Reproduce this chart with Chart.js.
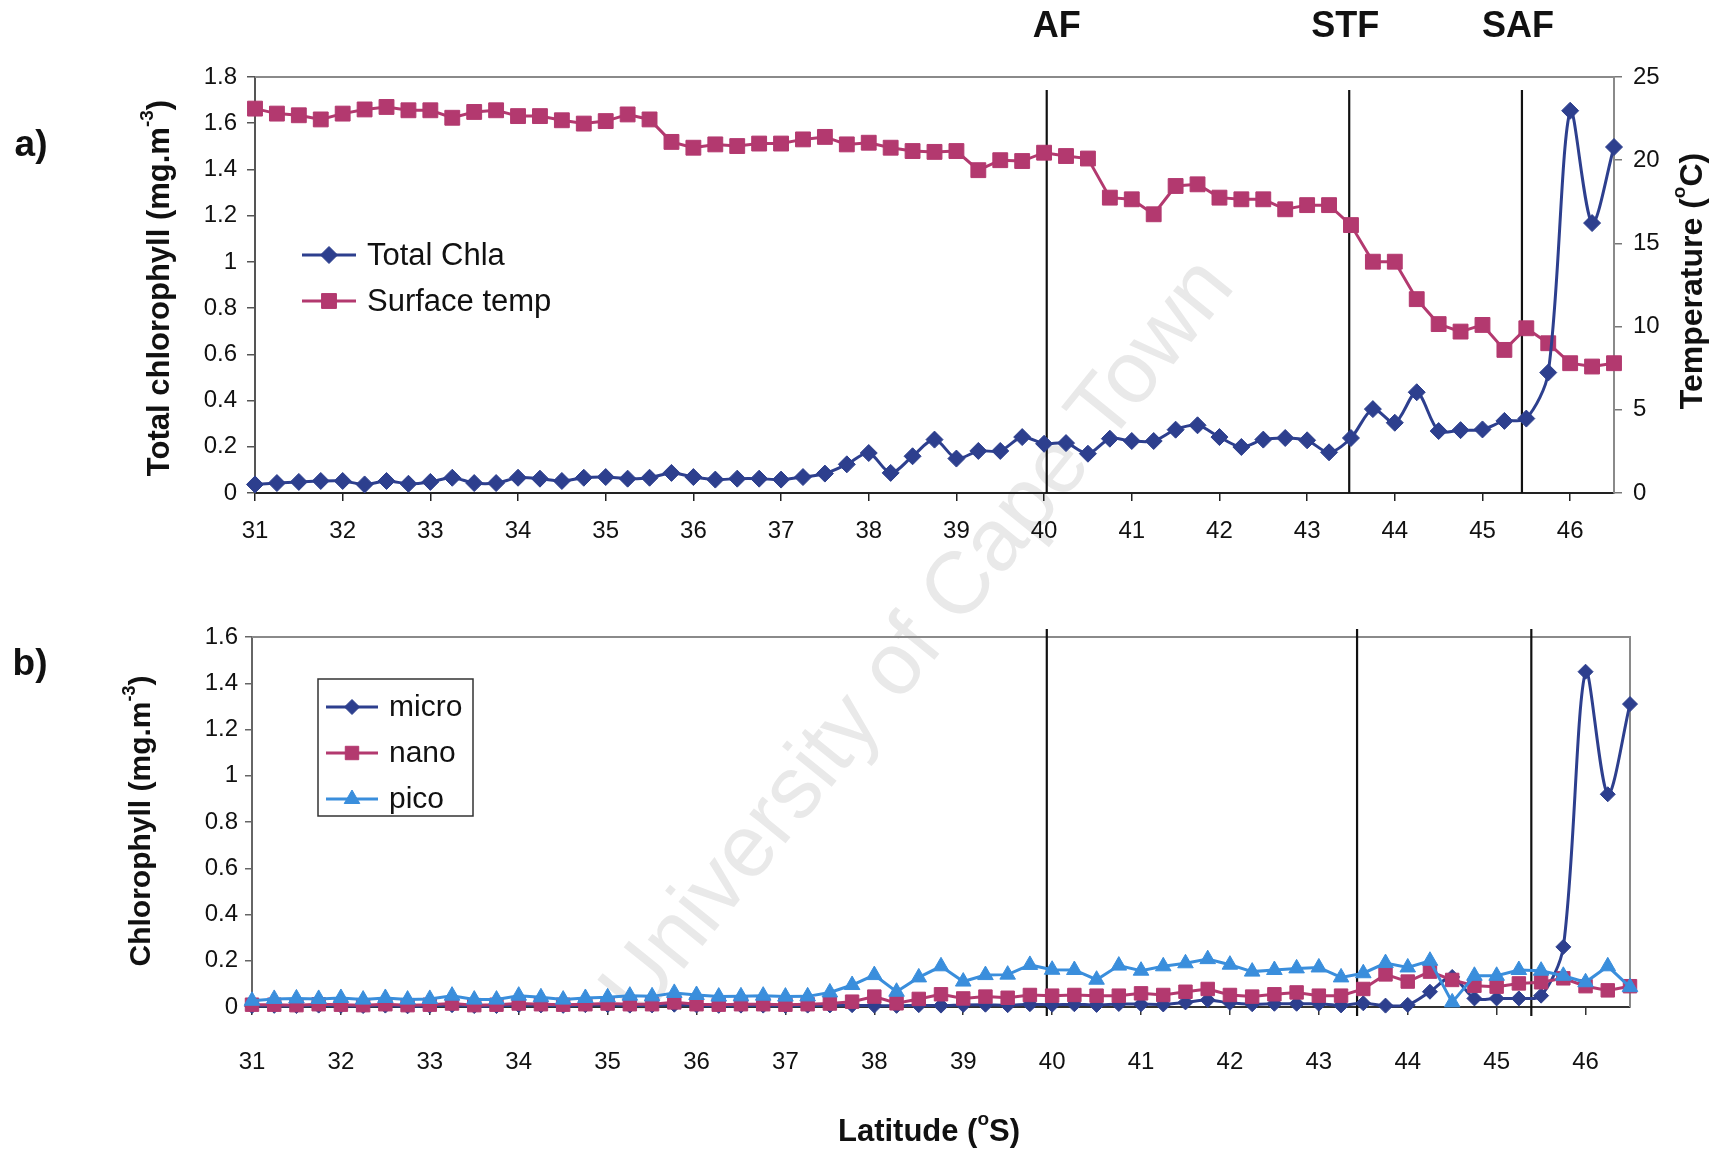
<!DOCTYPE html>
<html>
<head>
<meta charset="utf-8">
<script src="https://cdn.jsdelivr.net/npm/chart.js@4/dist/chart.umd.min.js"></script>
<style>
  html, body { margin: 0; padding: 0; background: #ffffff; }
  #wrap { position: relative; width: 1718px; height: 1152px; overflow: hidden; }
  #mark {
    position: absolute; left: 915px; top: 636px;
    transform: translate(-50%, -50%) rotate(-51deg);
    font-family: "Liberation Sans", Arial, sans-serif; font-size: 88px;
    color: #e9e9e9; white-space: nowrap; z-index: 0;
  }
  .panel { position: absolute; left: 0; z-index: 1; }
</style>
</head>
<body>
<div id="wrap">
  <div id="mark">University of Cape Town</div>
  <div class="panel" style="top:0"><canvas id="chartA" width="1718" height="560"></canvas></div>
  <div class="panel" style="top:560px"><canvas id="chartB" width="1718" height="592"></canvas></div>
</div>
<script>
// ---- station latitudes (degrees S) ----
const latitude = [
  31, 31.25, 31.5, 31.75, 32, 32.25, 32.5, 32.75, 33, 33.25, 33.5, 33.75, 34, 34.25, 34.5, 34.75,
  35, 35.25, 35.5, 35.75, 36, 36.25, 36.5, 36.75, 37, 37.25, 37.5, 37.75, 38, 38.25, 38.5, 38.75,
  39, 39.25, 39.5, 39.75, 40, 40.25, 40.5, 40.75, 41, 41.25, 41.5, 41.75, 42, 42.25, 42.5, 42.75,
  43, 43.25, 43.5, 43.75, 44, 44.25, 44.5, 44.75, 45, 45.25, 45.5, 45.75, 46, 46.25, 46.5
];

// ---- panel a: total chlorophyll (mg m-3) and surface temperature (deg C) ----
const totalChla = [
  0.037, 0.043, 0.048, 0.052, 0.052, 0.037, 0.052, 0.040, 0.048, 0.066, 0.043, 0.043, 0.066, 0.062, 0.052, 0.066,
  0.069, 0.062, 0.066, 0.087, 0.069, 0.058, 0.062, 0.062, 0.058, 0.069, 0.084, 0.124, 0.173, 0.087, 0.159, 0.231,
  0.149, 0.182, 0.182, 0.242, 0.213, 0.216, 0.170, 0.235, 0.225, 0.225, 0.274, 0.293, 0.242, 0.199, 0.231, 0.238,
  0.228, 0.176, 0.238, 0.363, 0.304, 0.436, 0.268, 0.272, 0.275, 0.312, 0.322, 0.521, 1.654, 1.168, 1.497
];
const surfaceTemp = [
  23.1, 22.8, 22.7, 22.45, 22.8, 23.05, 23.2, 23.0, 23.0, 22.55, 22.9, 23.0, 22.65, 22.65, 22.4, 22.2,
  22.35, 22.75, 22.45, 21.1, 20.75, 20.95, 20.85, 21.0, 21.0, 21.25, 21.4, 20.95, 21.05, 20.75, 20.55, 20.5,
  20.55, 19.4, 20.0, 19.95, 20.45, 20.25, 20.1, 17.75, 17.65, 16.75, 18.45, 18.55, 17.75, 17.65, 17.65, 17.05,
  17.3, 17.3, 16.1, 13.9, 13.9, 11.65, 10.15, 9.7, 10.1, 8.6, 9.9, 9.0, 7.8, 7.6, 7.8
];

// ---- panel b: size-fractionated chlorophyll (mg m-3) ----
const micro = [
  0.004, 0.005, 0.004, 0.006, 0.005, 0.004, 0.006, 0.003, 0.005, 0.008, 0.004, 0.004, 0.008, 0.007, 0.005, 0.008,
  0.008, 0.006, 0.007, 0.010, 0.007, 0.005, 0.006, 0.006, 0.005, 0.006, 0.007, 0.008, 0.006, 0.005, 0.008, 0.006,
  0.009, 0.010, 0.008, 0.012, 0.010, 0.012, 0.009, 0.013, 0.012, 0.011, 0.020, 0.030, 0.018, 0.012, 0.014, 0.014,
  0.014, 0.007, 0.016, 0.006, 0.009, 0.066, 0.130, 0.037, 0.037, 0.037, 0.049, 0.260, 1.45, 0.92, 1.31
];
const nano = [
  0.010, 0.010, 0.008, 0.012, 0.010, 0.008, 0.012, 0.008, 0.010, 0.015, 0.008, 0.010, 0.015, 0.012, 0.010, 0.012,
  0.015, 0.012, 0.012, 0.020, 0.012, 0.010, 0.012, 0.012, 0.010, 0.012, 0.015, 0.023, 0.045, 0.016, 0.035, 0.055,
  0.037, 0.045, 0.040, 0.052, 0.049, 0.052, 0.049, 0.049, 0.059, 0.052, 0.066, 0.078, 0.052, 0.045, 0.055, 0.063,
  0.049, 0.049, 0.078, 0.141, 0.110, 0.153, 0.117, 0.092, 0.088, 0.102, 0.107, 0.124, 0.090, 0.072, 0.090
];
const pico = [
  0.027, 0.035, 0.037, 0.035, 0.039, 0.032, 0.039, 0.032, 0.035, 0.049, 0.032, 0.032, 0.049, 0.042, 0.032, 0.039,
  0.042, 0.049, 0.046, 0.061, 0.052, 0.045, 0.046, 0.049, 0.045, 0.046, 0.063, 0.095, 0.138, 0.066, 0.128, 0.176,
  0.110, 0.138, 0.140, 0.182, 0.161, 0.160, 0.118, 0.179, 0.157, 0.176, 0.189, 0.207, 0.183, 0.153, 0.160, 0.167,
  0.171, 0.128, 0.146, 0.190, 0.171, 0.200, 0.020, 0.135, 0.135, 0.160, 0.157, 0.135, 0.107, 0.176, 0.086
];

// ---- fronts (latitude of each front, per panel) ----
const frontNames = ['AF', 'STF', 'SAF'];
const frontsA = [40.03, 43.48, 45.45];
const frontsB = [39.94, 43.43, 45.39];

// ---- tick values and their labels ----
const latTicks = [31, 32, 33, 34, 35, 36, 37, 38, 39, 40, 41, 42, 43, 44, 45, 46];
const latTickLabels = ['31', '32', '33', '34', '35', '36', '37', '38', '39', '40', '41', '42', '43', '44', '45', '46'];
const chlaTicks = [0, 0.2, 0.4, 0.6, 0.8, 1, 1.2, 1.4, 1.6, 1.8];
const chlaTickLabels = ['0', '0.2', '0.4', '0.6', '0.8', '1', '1.2', '1.4', '1.6', '1.8'];
const tempTicks = [0, 5, 10, 15, 20, 25];
const tempTickLabels = ['0', '5', '10', '15', '20', '25'];
const sizeTicks = [0, 0.2, 0.4, 0.6, 0.8, 1, 1.2, 1.4, 1.6];
const sizeTickLabels = ['0', '0.2', '0.4', '0.6', '0.8', '1', '1.2', '1.4', '1.6'];

const FAMILY = '"Liberation Sans", Arial, Helvetica, sans-serif';
const NAVY = '#2d3f8e';
const PLUM = '#b3396f';
const SKY = '#3a8edc';
const FRAME = '#8a8a8a';

const pts = (ys) => latitude.map((x, i) => ({ x: x, y: ys[i] }));
const setTicks = (vals) => (axis) => { axis.ticks = vals.map(v => ({ value: v })); };
const tickText = (labels) => (v, i) => labels[i];

// rich text with raised superscript parts, centred on (x, y)
function drawRich(ctx, parts, x, y, size, rot, bold) {
  ctx.save();
  ctx.translate(x, y);
  ctx.rotate(rot);
  const w = bold ? 'bold ' : '';
  const base = w + size + 'px ' + FAMILY;
  const sup = w + Math.round(size * 0.6) + 'px ' + FAMILY;
  let total = 0;
  const widths = parts.map(([t, s]) => {
    ctx.font = s ? sup : base;
    const m = ctx.measureText(t).width;
    total += m;
    return m;
  });
  let cx = -total / 2;
  ctx.textAlign = 'left';
  ctx.textBaseline = 'middle';
  ctx.fillStyle = '#111111';
  parts.forEach(([t, s], i) => {
    ctx.font = s ? sup : base;
    ctx.fillText(t, cx, s ? -size * 0.4 : 0);
    cx += widths[i];
  });
  ctx.restore();
}

function drawMarker(ctx, style, x, y, r, color) {
  ctx.save();
  ctx.fillStyle = color;
  ctx.strokeStyle = color;
  ctx.lineWidth = 1;
  ctx.beginPath();
  if (style === 'rectRot') {
    ctx.moveTo(x, y - r); ctx.lineTo(x + r, y); ctx.lineTo(x, y + r); ctx.lineTo(x - r, y);
  } else if (style === 'rect') {
    const s = r * Math.SQRT1_2;
    ctx.rect(x - s, y - s, 2 * s, 2 * s);
  } else {
    ctx.moveTo(x, y - r); ctx.lineTo(x + r * 0.866, y + r / 2); ctx.lineTo(x - r * 0.866, y + r / 2);
  }
  ctx.closePath();
  ctx.fill();
  ctx.stroke();
  ctx.restore();
}

// line + marker legend, optional box
function legendPlugin(cfg) {
  return {
    id: 'lineLegend',
    afterDraw(chart) {
      const ctx = chart.ctx;
      if (cfg.box) {
        ctx.save();
        ctx.strokeStyle = '#333333';
        ctx.lineWidth = 1.5;
        ctx.strokeRect(cfg.box[0], cfg.box[1], cfg.box[2], cfg.box[3]);
        ctx.restore();
      }
      chart.data.datasets.forEach((ds, i) => {
        const y = cfg.rows[i];
        ctx.save();
        ctx.strokeStyle = ds.borderColor;
        ctx.lineWidth = 3;
        ctx.beginPath();
        ctx.moveTo(cfg.x0, y);
        ctx.lineTo(cfg.x1, y);
        ctx.stroke();
        ctx.restore();
        drawMarker(ctx, ds.pointStyle, (cfg.x0 + cfg.x1) / 2, y, ds.pointRadius, ds.backgroundColor);
        ctx.save();
        ctx.font = cfg.size + 'px ' + FAMILY;
        ctx.fillStyle = '#111111';
        ctx.textAlign = 'left';
        ctx.textBaseline = 'middle';
        ctx.fillText(ds.label, cfg.textX, y + 1);
        ctx.restore();
      });
    }
  };
}

// plot frame and vertical front lines, drawn beneath the series
function framePlugin(cfg) {
  return {
    id: 'frameFronts',
    beforeDatasetsDraw(chart) {
      const { ctx, chartArea: a, scales } = chart;
      ctx.save();
      ctx.strokeStyle = FRAME;
      ctx.lineWidth = 2;
      ctx.beginPath();
      ctx.moveTo(a.left, a.top);
      ctx.lineTo(a.right, a.top);
      if (cfg.rightEdge) { ctx.lineTo(a.right, a.bottom); }
      ctx.stroke();
      ctx.strokeStyle = '#111111';
      ctx.lineWidth = 2.2;
      cfg.fronts.forEach((lat) => {
        const x = scales.x.getPixelForValue(lat);
        ctx.beginPath();
        ctx.moveTo(x, a.top + cfg.lineTopOffset);
        ctx.lineTo(x, a.bottom + cfg.lineBottomOffset);
        ctx.stroke();
      });
      ctx.restore();
    },
    afterDraw(chart) {
      const { ctx, scales } = chart;
      if (cfg.frontLabels) {
        ctx.save();
        ctx.font = 'bold 36px ' + FAMILY;
        ctx.fillStyle = '#111111';
        ctx.textAlign = 'center';
        ctx.textBaseline = 'middle';
        cfg.fronts.forEach((lat, i) => {
          const x = scales.x.getPixelForValue(lat) + cfg.labelNudge[i];
          ctx.fillText(frontNames[i], x, cfg.labelY);
        });
        ctx.restore();
      }
      ctx.save();
      ctx.font = 'bold 37px ' + FAMILY;
      ctx.fillStyle = '#111111';
      ctx.textAlign = 'center';
      ctx.textBaseline = 'middle';
      ctx.fillText(cfg.panel[0], cfg.panel[1], cfg.panel[2]);
      ctx.restore();
      cfg.titles.forEach((t) => drawRich(ctx, t.parts, t.x, t.y, t.size, t.rot, true));
    }
  };
}

function seriesStyle(color, style, radius, tension) {
  return {
    borderColor: color, backgroundColor: color,
    pointStyle: style, pointRadius: radius, pointHoverRadius: radius,
    pointBorderWidth: 1, pointBorderColor: color, pointBackgroundColor: color,
    borderWidth: 3, tension: tension, clip: false, fill: false
  };
}

const tickFont = { family: FAMILY, size: 24 };

// ---------------- panel a ----------------
new Chart(document.getElementById('chartA'), {
  type: 'line',
  data: {
    datasets: [
      Object.assign({ label: 'Total Chla', data: pts(totalChla), yAxisID: 'y' }, seriesStyle(NAVY, 'rectRot', 8.5, 0.3)),
      Object.assign({ label: 'Surface temp', data: pts(surfaceTemp), yAxisID: 'y2' }, seriesStyle(PLUM, 'rect', 10.5, 0))
    ]
  },
  options: {
    responsive: false, animation: false, devicePixelRatio: 1,
    layout: { padding: { top: 77, left: 0, right: 0, bottom: 0 } },
    plugins: { legend: { display: false }, tooltip: { enabled: false } },
    scales: {
      x: {
        type: 'linear', min: 31, max: 46.5,
        afterBuildTicks: setTicks(latTicks), afterFit: (s) => { s.height = 67; },
        grid: { drawOnChartArea: false, tickLength: 8, color: '#222222', lineWidth: 1.5 },
        border: { color: '#222222', width: 2 },
        ticks: { font: tickFont, color: '#111111', padding: 16, maxRotation: 0, autoSkip: false, callback: tickText(latTickLabels) }
      },
      y: {
        position: 'left', min: 0, max: 1.8,
        afterBuildTicks: setTicks(chlaTicks), afterFit: (s) => { s.width = 255; },
        grid: { drawOnChartArea: false, tickLength: 8, color: '#555555', lineWidth: 1.5 },
        border: { color: '#555555', width: 2 },
        ticks: { font: tickFont, color: '#111111', padding: 10, autoSkip: false, callback: tickText(chlaTickLabels) }
      },
      y2: {
        position: 'right', min: 0, max: 25,
        afterBuildTicks: setTicks(tempTicks), afterFit: (s) => { s.width = 104; },
        grid: { drawOnChartArea: false, tickLength: 8, color: '#777777', lineWidth: 1.5 },
        border: { color: FRAME, width: 2 },
        ticks: { font: tickFont, color: '#111111', padding: 11, autoSkip: false, callback: tickText(tempTickLabels) }
      }
    }
  },
  plugins: [
    framePlugin({
      fronts: frontsA, lineTopOffset: 13, lineBottomOffset: 0, rightEdge: false,
      frontLabels: true, labelNudge: [10, -4, -4], labelY: 27,
      panel: ['a)', 31, 146],
      titles: [
        { parts: [['Total chlorophyll (mg.m', false], ['-3', true], [')', false]], x: 160, y: 288, size: 31, rot: -Math.PI / 2 },
        { parts: [['Temperature (', false], ['o', true], ['C)', false]], x: 1693, y: 281, size: 32, rot: -Math.PI / 2 }
      ]
    }),
    legendPlugin({ x0: 302, x1: 356, textX: 367, rows: [255, 301], size: 31 })
  ]
});

// ---------------- panel b ----------------
new Chart(document.getElementById('chartB'), {
  type: 'line',
  data: {
    datasets: [
      Object.assign({ label: 'micro', data: pts(micro), order: 3 }, seriesStyle(NAVY, 'rectRot', 7.5, 0.3)),
      Object.assign({ label: 'nano', data: pts(nano), order: 2 }, seriesStyle(PLUM, 'rect', 9.5, 0)),
      Object.assign({ label: 'pico', data: pts(pico), order: 1 }, seriesStyle(SKY, 'triangle', 9, 0))
    ]
  },
  options: {
    responsive: false, animation: false, devicePixelRatio: 1,
    layout: { padding: { top: 77, left: 0, right: 88, bottom: 0 } },
    plugins: { legend: { display: false }, tooltip: { enabled: false } },
    scales: {
      x: {
        type: 'linear', min: 31, max: 46.5,
        afterBuildTicks: setTicks(latTicks), afterFit: (s) => { s.height = 145; },
        grid: { drawOnChartArea: false, tickLength: 8, color: '#333333', lineWidth: 1.5 },
        border: { color: '#333333', width: 2 },
        ticks: { font: tickFont, color: '#111111', padding: 33, maxRotation: 0, autoSkip: false, callback: tickText(latTickLabels) }
      },
      y: {
        position: 'left', min: 0, max: 1.6,
        afterBuildTicks: setTicks(sizeTicks), afterFit: (s) => { s.width = 252; },
        grid: { drawOnChartArea: false, tickLength: 7, color: '#666666', lineWidth: 1.5 },
        border: { color: '#666666', width: 2 },
        ticks: { font: tickFont, color: '#111111', padding: 7, autoSkip: false, callback: tickText(sizeTickLabels) }
      }
    }
  },
  plugins: [
    framePlugin({
      fronts: frontsB, lineTopOffset: -8, lineBottomOffset: 9, rightEdge: true,
      frontLabels: false,
      panel: ['b)', 30, 105],
      titles: [
        { parts: [['Chlorophyll (mg.m', false], ['-3', true], [')', false]], x: 142, y: 261, size: 30, rot: -Math.PI / 2 },
        { parts: [['Latitude (', false], ['o', true], ['S)', false]], x: 929, y: 572, size: 31, rot: 0 }
      ]
    }),
    legendPlugin({ x0: 326, x1: 378, textX: 389, rows: [147, 193, 239], size: 30, box: [318, 119, 155, 137] })
  ]
});
</script>
</body>
</html>
